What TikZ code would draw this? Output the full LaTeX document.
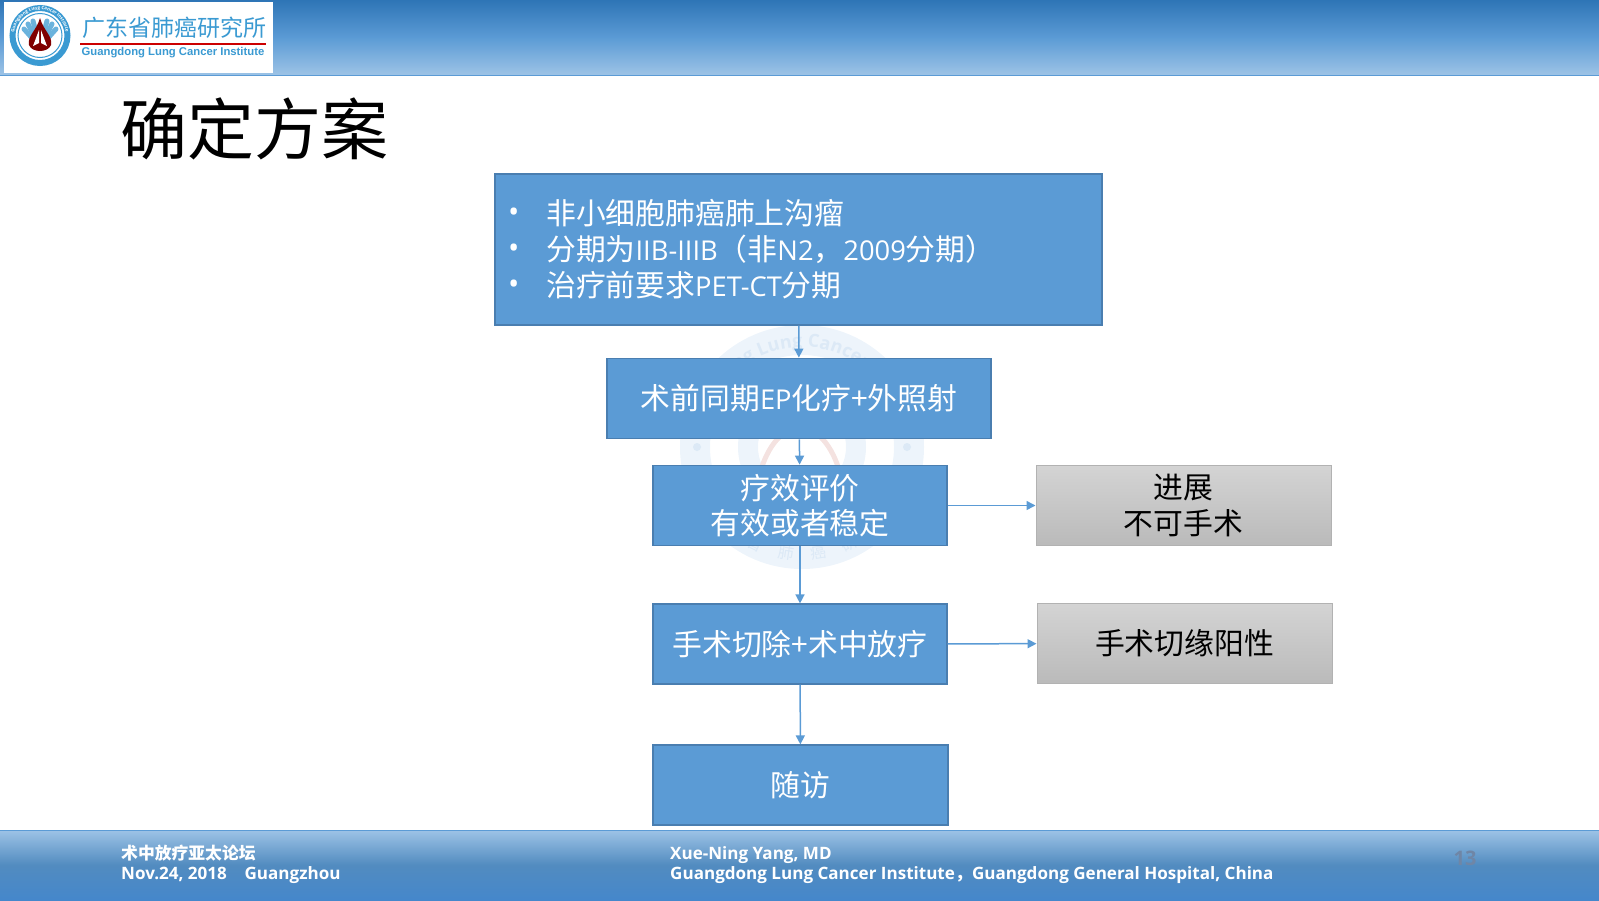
\documentclass[tikz,border=0pt]{standalone}
\usepackage{fontspec}
\setmainfont{Open Sans}
\newfontfamily\cjk{Noto Sans CJK SC}
\newfontfamily\latinfont{Open Sans}
\newfontfamily\logofont{Liberation Sans}
\usetikzlibrary{arrows.meta,decorations.text}
\definecolor{boxblue}{HTML}{5B9BD5}
\definecolor{boxedge}{HTML}{4A7EB0}
\definecolor{barlight}{HTML}{9DC3E6}
\definecolor{bardark}{HTML}{2E75B6}
\definecolor{footdark}{HTML}{4587CB}
\definecolor{logoblue}{HTML}{3A9AD2}
\definecolor{faintblue}{HTML}{EDF4FB}
\definecolor{faintmark}{HTML}{DCE9F6}
\definecolor{faintred}{HTML}{F4E2E0}
\definecolor{pagegray}{HTML}{6F86A6}
\newcommand{\lat}[1]{{\fontsize{27.3}{36}\selectfont\latinfont #1}}
\begin{document}
\begin{tikzpicture}[
  x=1pt, y=-1pt,
  flowbox/.style={
    rectangle, draw=boxedge, line width=1.2pt, fill=boxblue, inner sep=0pt,
    text=white, font=\fontsize{29.8}{35.5}\selectfont\cjk, align=center
  },
  sidebox/.style={
    rectangle, draw=black!30, line width=1pt, inner sep=0pt,
    top color=black!17, bottom color=black!27,
    text=black, font=\fontsize{29.8}{35.5}\selectfont\cjk, align=center
  },
  footer/.style={
    anchor=west, text=white, inner sep=0pt, align=left,
    font=\fontsize{17.05}{20}\selectfont\bfseries
  },
  finger/.style={logoblue!75, line width=5pt, line cap=round},
  arrow/.style={-{Triangle[length=9pt,width=9pt]}, line width=1.5pt, boxblue}
]
\useasboundingbox (0,0) rectangle (1599,900);

% Header and footer bars
\fill[top color=bardark, bottom color=barlight, middle color=boxblue] (0,0) rectangle (1599,75);
\draw[boxblue, line width=1pt] (0,75) -- (1599,75);
\fill[top color=barlight, bottom color=footdark, middle color=boxblue!90!black] (0,830) rectangle (1599,900);
\draw[boxblue, line width=1pt] (0,830) -- (1599,830);

% Logo
\fill[white] (4,2) rectangle (273,73);
\draw[logoblue, line width=6pt] (40,35.5) circle (27.5);
\draw[logoblue, line width=1pt] (40,35.5) circle (22);
\foreach \a/\b in {24/29, 28/24, 33/21, 47/21, 52/24, 56/29}
  \draw[finger] (\a,\b) -- (40,47);
\fill[red!50!black] (40,18) .. controls (37,30) and (27,36) .. (29,45) .. controls (32,53) and (48,53) .. (51,45) .. controls (53,36) and (43,30) .. (40,18);
\fill[white] (39,30) -- (33,46) -- (39,43) -- cycle (41,30) -- (47,46) -- (41,43) -- cycle;
\path[postaction={decorate, decoration={text along path, text align=center,
    text={|\fontsize{4.5}{5}\selectfont\bfseries\color{white}|Guangdong Lung Cancer Institute}}}]
  (14,35.5) arc[start angle=180, end angle=360, radius=26];
\node[text=logoblue, inner sep=0pt, font=\fontsize{23}{23}\selectfont\cjk] (logotitle) at (174,28) {广东省肺癌研究所};
\draw[red!80!black, line width=1.3pt] (80,44) -- (266,44);
\node[text=logoblue, inner sep=0pt, font=\fontsize{11.3}{11.3}\selectfont\logofont\bfseries] (logoname) at (173,52.5) {Guangdong Lung Cancer Institute};

% Watermark
\fill[faintblue, even odd rule] (802,447) circle (122) (802,447) circle (92);
\fill[faintblue, even odd rule] (802,447) circle (64) (802,447) circle (44);
\fill[faintmark] (697,447) circle (4) (907,447) circle (4);
\draw[faintred, line width=5pt] (758,480) .. controls (768,440) and (785,430) .. (800,425) .. controls (815,430) and (832,440) .. (842,480);
\path[postaction={decorate, decoration={text along path, text align=center,
    text={|\fontsize{18}{20}\selectfont\bfseries\color{faintmark}|Guangdong Lung Cancer Institute}}}]
  (702,447) arc[start angle=180, end angle=360, radius=100];
\path[postaction={decorate, decoration={text along path, text align=fit to path,
    text={|\fontsize{16}{18}\selectfont\cjk\color{faintmark}|广东省肺癌研究所}}}]
  (699.6,494.8) arc[start angle=155, end angle=25, radius=113];

% Title
\node[anchor=west, inner sep=0pt, font=\fontsize{67}{67}\selectfont\cjk] (title) at (120,129) {确定方案};

% Flow boxes
\node[flowbox, minimum width=607pt, minimum height=151pt] (criteria) at (798.5,249.5) {};
\node[anchor=west, text=white, inner sep=0pt, font=\fontsize{30}{36}\selectfont, align=left] (bullets) at (508,251.5)
  {•\\ •\\ •};
\node[anchor=west, text=white, inner sep=0pt, font=\fontsize{29.8}{36}\selectfont\cjk, align=left] (criteriatext) at (546,249)
  {非小细胞肺癌肺上沟瘤\\
   分期为\lat{IIB-IIIB}（非\lat{N2}，\lat{2009}分期）\\
   治疗前要求\lat{PET-CT}分期};
\node[flowbox, minimum width=384pt, minimum height=80.5pt] (chemo) at (799,398.5) {术前同期\lat{EP}化疗+外照射};
\node[flowbox, minimum width=294pt, minimum height=80.5pt] (assess) at (800,505.5) {疗效评价\\有效或者稳定};
\node[flowbox, minimum width=294pt, minimum height=80pt] (surgery) at (800,644) {手术切除+术中放疗};
\node[flowbox, minimum width=295pt, minimum height=80pt] (followup) at (800.5,785) {随访};

% Side boxes
\node[sidebox, minimum width=295pt, minimum height=79.5pt] (progress) at (1183.5,505.5) {进展\\不可手术};
\node[sidebox, minimum width=295pt, minimum height=79.5pt] (margin) at (1184.5,643.5) {手术切缘阳性};

% Arrows
\draw[arrow] (criteria) -- (chemo);
\draw[arrow] (chemo) -- (assess);
\draw[arrow] (assess) -- (surgery);
\draw[arrow] (surgery) -- (followup);
\draw[arrow] (assess) -- (progress);
\draw[arrow] (surgery) -- (margin);

% Footer text
\node[footer, font=\fontsize{16.8}{20}\selectfont\bfseries] (forum) at (121,853.5) {{\cjk 术中放疗亚太论坛}};
\node[footer] (date) at (121,875.5) {Nov.24, 2018\ \ \ \ Guangzhou};
\node[footer] (speaker) at (670,855) {Xue-Ning Yang, MD};
\node[footer] (hospital) at (670,875.5) {Guangdong Lung Cancer Institute{\cjk ，}Guangdong General Hospital, China};
\node[text=pagegray, inner sep=0pt, font=\fontsize{20}{20}\selectfont\bfseries] (pagenum) at (1465,858) {13};
\end{tikzpicture}
\end{document}
